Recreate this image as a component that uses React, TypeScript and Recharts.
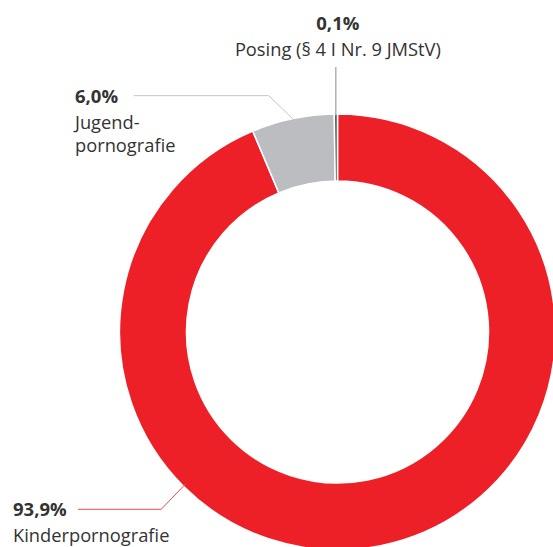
import React from 'react';
import { PieChart, Pie, Cell } from 'recharts';

const categories = ['Kinderpornografie', 'Jugendpornografie', 'Posing (§ 4 I Nr. 9 JMStV)'];
const shares = [93.9, 6.0, 0.1];
const colors = ['#ED1F27', '#BCBDC0', '#58595B'];
const lineColors = ['#EE4A4F', '#C4C5C8', '#8A8B8D'];

const data = categories.map((name, i) => ({ name, value: shares[i] }));

const FONT = '"Open Sans", Lato, sans-serif';
const TEXT = '#333333';
const BOLD_SIZE = 18.5;
const NAME_SIZE = 18.3;

const RAD = Math.PI / 180;
const polar = (cx: number, cy: number, r: number, angle: number) => ({
  x: cx + r * Math.cos(-angle * RAD),
  y: cy + r * Math.sin(-angle * RAD),
});

const fmt = (v: number) => v.toFixed(1).replace('.', ',') + '%';

const renderLabel = (props: any) => {
  const { cx, cy, outerRadius, midAngle, index, value } = props;
  const pct = fmt(value);

  if (index === 2) {
    // Posing: vertical line up to text above
    const p = polar(cx, cy, outerRadius, midAngle);
    return (
      <g>
        <line x1={p.x} y1={p.y - 47} x2={p.x} y2={p.y + 2} stroke={lineColors[2]} strokeWidth={1} />
        <text x={p.x + 2} y={cy - 302} textAnchor="middle" fontFamily={FONT} fontWeight={700} fontSize={BOLD_SIZE} fill={TEXT}>
          {pct}
        </text>
        <text x={p.x + 2} y={cy - 276.5} textAnchor="middle" fontFamily={FONT} fontSize={NAME_SIZE} fill={TEXT}>
          {categories[2]}
        </text>
      </g>
    );
  }

  if (index === 1) {
    const p = polar(cx, cy, outerRadius, midAngle);
    const bx = p.x - 24;
    const by = p.y - 23;
    return (
      <g>
        <polyline
          points={`${p.x},${p.y} ${bx},${by} ${cx - 204},${by}`}
          fill="none"
          stroke={lineColors[1]}
          strokeWidth={1}
        />
        <text x={cx - 262.5} y={by + 7.5} fontFamily={FONT} fontWeight={700} fontSize={BOLD_SIZE} fill={TEXT}>
          {pct}
        </text>
        <text x={cx - 262.5} y={by + 33} fontFamily={FONT} fontSize={NAME_SIZE} fill={TEXT}>
          Jugend-
        </text>
        <text x={cx - 262.5} y={by + 56} fontFamily={FONT} fontSize={NAME_SIZE} fill={TEXT}>
          pornografie
        </text>
      </g>
    );
  }

  // Kinderpornografie: leader from lower-left of ring
  const p = polar(cx, cy, outerRadius - 4, 225);
  const bx = p.x - 25;
  const by = p.y + 26;
  return (
    <g>
      <polyline
        points={`${p.x},${p.y} ${bx},${by} ${cx - 259.5},${by}`}
        fill="none"
        stroke={lineColors[0]}
        strokeWidth={1}
      />
      <text x={cx - 324.5} y={by + 7} fontFamily={FONT} fontWeight={700} fontSize={BOLD_SIZE} fill={TEXT}>
        {pct}
      </text>
      <text x={cx - 324.5} y={by + 32.5} fontFamily={FONT} fontSize={NAME_SIZE} fill={TEXT}>
        {categories[0]}
      </text>
    </g>
  );
};

export default function App() {
  return (
    <div style={{ position: 'absolute', left: 0, top: 0, width: 553, height: 547, background: '#fff', overflow: 'hidden' }}>
      <PieChart width={553} height={547} margin={{ top: 0, right: 0, bottom: 0, left: 0 }}>
        <Pie
          data={data}
          dataKey="value"
          nameKey="name"
          cx={337.5}
          cy={332}
          innerRadius={151}
          outerRadius={218}
          startAngle={90}
          endAngle={-270}
          minAngle={0.5}
          stroke="#ffffff"
          strokeWidth={1.5}
          label={renderLabel}
          labelLine={false}
          isAnimationActive={false}
        >
          {data.map((d, i) => (
            <Cell key={d.name} fill={colors[i]} />
          ))}
        </Pie>
      </PieChart>
    </div>
  );
}
